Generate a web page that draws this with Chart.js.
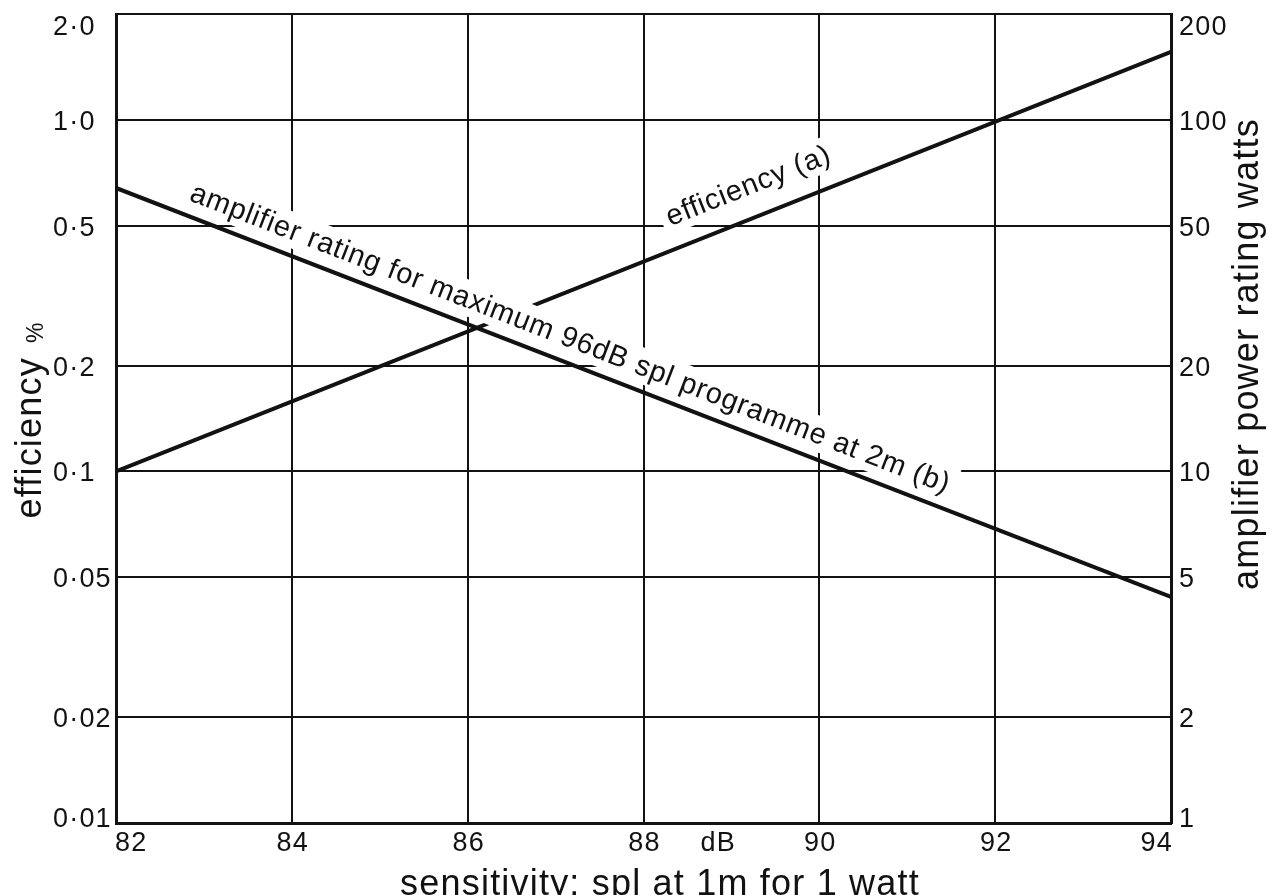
<!DOCTYPE html>
<html>
<head>
<meta charset="utf-8">
<title>Efficiency and amplifier rating vs sensitivity</title>
<script src="https://cdn.jsdelivr.net/npm/chart.js@4.4.0/dist/chart.umd.min.js"></script>
<style>
  html, body { margin: 0; padding: 0; background: #fff; }
  #wrap { width: 1277px; height: 895px; }
</style>
</head>
<body>
<div id="wrap"><canvas id="chart"></canvas></div>
<script>
// sensitivity, dB spl at 1m for 1 watt
const sensitivity = [82, 94];
// (a) efficiency %, left axis
const efficiencyPct = [0.1, 1.56];
// (b) amplifier rating for 96dB spl programme at 2m, watts, right axis
const ampWatts = [64, 4.4];

const xTicks = [82, 84, 86, 88, 90, 92, 94];
const effTicks = [0.01, 0.02, 0.05, 0.1, 0.2, 0.5, 1, 2];
const effLabels = ['0·01', '0·02', '0·05', '0·1', '0·2', '0·5', '1·0', '2·0'];
const wattTicks = [1, 2, 5, 10, 20, 50, 100, 200];
const wattLabels = ['1', '2', '5', '10', '20', '50', '100', '200'];

const INK = '#121212';
const FONT = '"Liberation Sans", Arial, Helvetica, sans-serif';

// labels written along each line: start position in dB, gap above the line in px
const lineLabels = [
    { dataset: 0, text: 'efficiency (a)', startX: 88.4, offset: 23 },
    { dataset: 1, text: 'amplifier rating for maximum 96dB spl programme at 2m (b)', startX: 82.76, offset: 15 }
];

const setTicks = values => scale => { scale.ticks = values.map(v => ({ value: v })); };

const gridOpts = { color: INK, lineWidth: 2, drawTicks: false };
const borderOpts = { color: INK, width: 3 };

// line labels with a white knock-out so grid lines break around the words
const lineLabelPlugin = {
    id: 'lineLabels',
    afterDatasetsDraw(chart) {
        const { ctx, scales: { x } } = chart;
        lineLabels.forEach(lab => {
            const pts = chart.getDatasetMeta(lab.dataset).data;
            const p0 = pts[0], p1 = pts[pts.length - 1];
            const ang = Math.atan2(p1.y - p0.y, p1.x - p0.x);
            const lx = x.getPixelForValue(lab.startX);
            const ly = p0.y + (lx - p0.x) * (p1.y - p0.y) / (p1.x - p0.x);
            ctx.save();
            ctx.translate(lx, ly);
            ctx.rotate(ang);
            ctx.font = '29px ' + FONT;
            ctx.letterSpacing = '0.8px';
            const m = ctx.measureText(lab.text);
            const asc = m.actualBoundingBoxAscent;
            ctx.fillStyle = '#fff';
            ctx.fillRect(-6, -lab.offset - asc - 5, m.width + 12, asc + 13);
            ctx.fillStyle = INK;
            ctx.textAlign = 'left';
            ctx.textBaseline = 'alphabetic';
            ctx.fillText(lab.text, 0, -lab.offset);
            ctx.restore();
        });
    }
};

// tick labels and axis titles
const axisTextPlugin = {
    id: 'axisText',
    afterDraw(chart) {
        const { ctx, chartArea: area, scales: { x, y, y2 } } = chart;
        const clampY = p => Math.min(Math.max(p, area.top + 11), area.bottom - 6);
        ctx.save();
        ctx.fillStyle = INK;
        ctx.textBaseline = 'alphabetic';
        ctx.font = '27px ' + FONT;
        ctx.letterSpacing = '1.2px';

        ctx.textAlign = 'left';
        effTicks.forEach((v, i) => {
            ctx.fillText(effLabels[i], area.left - 63, clampY(y.getPixelForValue(v)) + 10);
        });
        wattTicks.forEach((v, i) => {
            ctx.fillText(wattLabels[i], area.right + 8, clampY(y2.getPixelForValue(v)) + 10);
        });

        xTicks.forEach((v, i) => {
            const px = x.getPixelForValue(v);
            if (i === 0) { ctx.textAlign = 'left'; ctx.fillText(String(v), area.left - 1, area.bottom + 28); }
            else if (i === xTicks.length - 1) { ctx.textAlign = 'right'; ctx.fillText(String(v), area.right + 2, area.bottom + 28); }
            else { ctx.textAlign = 'center'; ctx.fillText(String(v), px + 1, area.bottom + 28); }
        });
        ctx.textAlign = 'center';
        ctx.fillText('dB', x.getPixelForValue(88.85), area.bottom + 28);

        // x title
        ctx.font = '36px ' + FONT;
        ctx.letterSpacing = '1.2px';
        ctx.fillText('sensitivity: spl at 1m for 1 watt', 660, area.bottom + 72);

        // left title: "efficiency" with a small % after it
        ctx.save();
        ctx.translate(area.left - 75, 420);
        ctx.rotate(-Math.PI / 2);
        ctx.textAlign = 'left';
        const w1 = ctx.measureText('efficiency').width;
        ctx.font = '23px ' + FONT;
        const w2 = ctx.measureText('%').width;
        const start = -(w1 + 14 + w2) / 2;
        ctx.fillText('%', start + w1 + 14, 2);
        ctx.font = '36px ' + FONT;
        ctx.fillText('efficiency', start, 0);
        ctx.restore();

        // right title
        ctx.save();
        ctx.translate(area.right + 87, 354);
        ctx.rotate(-Math.PI / 2);
        ctx.textAlign = 'center';
        ctx.fillText('amplifier power rating watts', 0, 0);
        ctx.restore();

        ctx.restore();
    }
};

new Chart(document.getElementById('chart'), {
    type: 'line',
    data: {
        datasets: [
            {
                label: 'efficiency (a)',
                data: sensitivity.map((s, i) => ({ x: s, y: efficiencyPct[i] })),
                yAxisID: 'y',
                borderColor: INK,
                borderWidth: 4,
                pointRadius: 0,
                tension: 0
            },
            {
                label: 'amplifier rating (b)',
                data: sensitivity.map((s, i) => ({ x: s, y: ampWatts[i] })),
                yAxisID: 'y2',
                borderColor: INK,
                borderWidth: 4,
                pointRadius: 0,
                tension: 0
            }
        ]
    },
    options: {
        responsive: true,
        maintainAspectRatio: false,
        animation: false,
        layout: { padding: { left: 116, top: 14, right: 106, bottom: 72 } },
        plugins: {
            legend: { display: false },
            tooltip: { enabled: false }
        },
        scales: {
            x: {
                type: 'linear',
                min: 82,
                max: 94,
                afterBuildTicks: setTicks(xTicks),
                afterFit: s => { s.height = 0; },
                ticks: { display: false },
                grid: gridOpts,
                border: borderOpts
            },
            y: {
                type: 'logarithmic',
                position: 'left',
                min: 0.01,
                max: 2,
                afterBuildTicks: setTicks(effTicks),
                afterFit: s => { s.width = 0; },
                ticks: { display: false },
                grid: gridOpts,
                border: borderOpts
            },
            y2: {
                type: 'logarithmic',
                position: 'right',
                min: 1,
                max: 200,
                afterBuildTicks: setTicks(wattTicks),
                afterFit: s => { s.width = 0; },
                ticks: { display: false },
                grid: { drawOnChartArea: false, drawTicks: false },
                border: borderOpts
            }
        }
    },
    plugins: [lineLabelPlugin, axisTextPlugin]
});
</script>
</body>
</html>
